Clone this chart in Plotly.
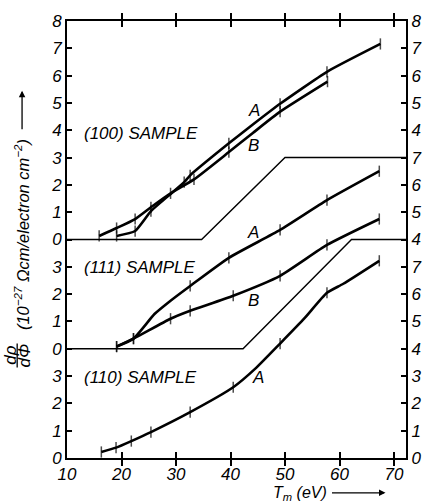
import plotly.graph_objects as go

# ---- data (panel units; each panel has its own zero) ----
a100_x = [19.1, 22.5, 25.4, 28.5, 31.5, 32.6, 39.7, 44.1, 49.1, 57.7, 67.5]
a100_y = [0.13, 0.31, 1.04, 1.58, 2.10, 2.35, 3.52, 4.21, 4.97, 6.14, 7.16]
b100_x = [15.9, 19.1, 22.5, 25.4, 29.0, 33.3, 39.7, 44.1, 49.1, 57.8]
b100_y = [0.13, 0.42, 0.75, 1.18, 1.69, 2.20, 3.20, 3.90, 4.68, 5.78]

a111_x = [19.1, 22.2, 26.1, 29.0, 32.6, 39.7, 49.1, 57.7, 67.3]
a111_y = [0.08, 0.37, 1.28, 1.76, 2.30, 3.33, 4.35, 5.44, 6.50]
b111_x = [19.1, 22.2, 29.0, 32.6, 40.5, 49.1, 57.7, 67.3]
b111_y = [0.08, 0.37, 1.10, 1.39, 1.94, 2.67, 3.80, 4.75]

a110_x = [16.3, 19.0, 21.8, 25.4, 32.6, 40.5, 44.6, 49.1, 53.5, 57.7, 60.7, 67.3]
a110_y = [0.22, 0.38, 0.62, 0.95, 1.68, 2.59, 3.28, 4.19, 5.10, 6.05, 6.38, 7.22]

# which points carry a small measurement tick (1) or not (0)
a100_tick = [1, 1, 1, 0, 1, 1, 1, 0, 1, 1, 1]
b100_tick = [1, 1, 1, 1, 1, 1, 1, 0, 1, 1]
a111_tick = [1, 1, 0, 0, 1, 1, 1, 1, 1]
b111_tick = [1, 1, 1, 1, 1, 1, 1, 1]
a110_tick = [1, 1, 1, 1, 1, 1, 0, 1, 0, 1, 0, 1]

# threshold (right-axis) lines
thr100_x = [10, 34.7, 50.0, 72.2]
thr100_y = [4, 4, 7, 7]
thr111_x = [10, 42.3, 62.2, 72.2]
thr111_y = [4, 4, 8, 8]

# axis tick labels
x_ticks = [10, 20, 30, 40, 50, 60, 70]
left_ticktext = ["0", "1", "2", "3", "0", "1", "2", "3", "0", "1", "2", "3", "4", "5", "6", "7", "8"]
right_ticktext = ["0", "1", "2", "3", "4", "5", "6", "7", "4", "5", "6", "7", "4", "5", "6", "7", "8"]

# panel offsets on the shared global scale
OFF100, OFF111, OFF110 = 8, 4, 0
THR100_OFF, THR111_OFF = 4, 0

FONT = "Liberation Sans"
fig = go.Figure()


def curve(xs, ys, ticks, off):
    fig.add_trace(go.Scatter(
        x=xs, y=[v + off for v in ys], mode="lines+markers",
        line=dict(color="black", width=2.6, shape="spline", smoothing=0.5),
        marker=dict(symbol="line-ns", size=[8 if t else 0 for t in ticks],
                    line=dict(color="black", width=1.5)),
        showlegend=False, hoverinfo="skip"))


curve(a100_x, a100_y, a100_tick, OFF100)
curve(b100_x, b100_y, b100_tick, OFF100)
curve(a111_x, a111_y, a111_tick, OFF111)
curve(b111_x, b111_y, b111_tick, OFF111)
curve(a110_x, a110_y, a110_tick, OFF110)

for xs, ys, off in [(thr100_x, thr100_y, THR100_OFF), (thr111_x, thr111_y, THR111_OFF)]:
    fig.add_trace(go.Scatter(
        x=xs, y=[v + off for v in ys], mode="lines", yaxis="y2",
        line=dict(color="black", width=1.4), showlegend=False, hoverinfo="skip"))

# geometry helpers (pixel -> paper)
L, R, T, B = 67, 414, 19, 458
def px(x): return (x - L) / (R - L)
def py(y): return (B - y) / (B - T)

annos = []
def txt(x, y, s, size=17, angle=0, xanchor="center"):
    annos.append(dict(x=px(x), y=py(y), xref="paper", yref="paper", text=s, showarrow=False,
                      font=dict(family=FONT, size=size, color="black"), textangle=angle,
                      xanchor=xanchor, yanchor="middle"))

txt(82, 132, "<i>(100) SAMPLE</i>", xanchor="left")
txt(82, 267, "<i>(111) SAMPLE</i>", xanchor="left")
txt(82, 377, "<i>(110) SAMPLE</i>", xanchor="left")
txt(258, 109, "<i>A</i>")
txt(258, 144, "<i>B</i>")
txt(257, 231, "<i>A</i>")
txt(258, 300, "<i>B</i>")
txt(262, 377, "<i>A</i>")

# y-axis title
txt(9, 355, "<i>dρ</i>", size=17, angle=-90)
txt(23, 355, "<i>dΦ</i>", size=17, angle=-90)
txt(21, 234, "<i>(10<sup>−27</sup> Ωcm/electron cm<sup>−2</sup>)</i>", size=16.5, angle=-90)
# x-axis title
txt(306, 494, "<i>T<sub>m</sub> (eV)</i>", size=16)

# arrows
annos.append(dict(x=px(21), y=py(89), ax=0, ay=40, xref="paper", yref="paper",
                  axref="pixel", ayref="pixel", text="", showarrow=True, arrowhead=2,
                  arrowsize=1, arrowwidth=1.3, arrowcolor="black"))
annos.append(dict(x=px(393), y=py(493), ax=-55, ay=0, xref="paper", yref="paper",
                  axref="pixel", ayref="pixel", text="", showarrow=True, arrowhead=2,
                  arrowsize=1, arrowwidth=1.3, arrowcolor="black"))

shapes = [dict(type="line", xref="paper", yref="paper", x0=px(16), x1=px(16),
               y0=py(343), y1=py(367), line=dict(color="black", width=1.3))]

tickfont = dict(family=FONT, size=17, color="black")
fig.update_layout(
    width=433, height=503, margin=dict(l=L, r=433 - R, t=T, b=503 - B),
    paper_bgcolor="white", plot_bgcolor="white",
    xaxis=dict(range=[10, 72.2], tickvals=x_ticks, ticktext=[f"<i>{v}</i>" for v in x_ticks],
               ticks="inside", ticklen=6, tickwidth=1.5, tickcolor="black",
               showline=True, linewidth=2, linecolor="black", mirror="allticks",
               showgrid=False, zeroline=False, tickfont=tickfont),
    yaxis=dict(range=[0, 16], tickvals=list(range(17)),
               ticktext=[f"<i>{t}</i>" for t in left_ticktext],
               ticks="inside", ticklen=5, tickwidth=1.5, tickcolor="black",
               showline=True, linewidth=2, linecolor="black",
               showgrid=False, zeroline=False, tickfont=tickfont),
    yaxis2=dict(range=[0, 16], tickvals=list(range(17)),
                ticktext=[f"<i>{t}</i>" for t in right_ticktext],
                overlaying="y", side="right",
                ticks="inside", ticklen=5, tickwidth=1.5, tickcolor="black",
                showline=True, linewidth=2, linecolor="black",
                showgrid=False, zeroline=False, tickfont=tickfont),
    annotations=annos, shapes=shapes,
)

fig.write_html("out.html")
